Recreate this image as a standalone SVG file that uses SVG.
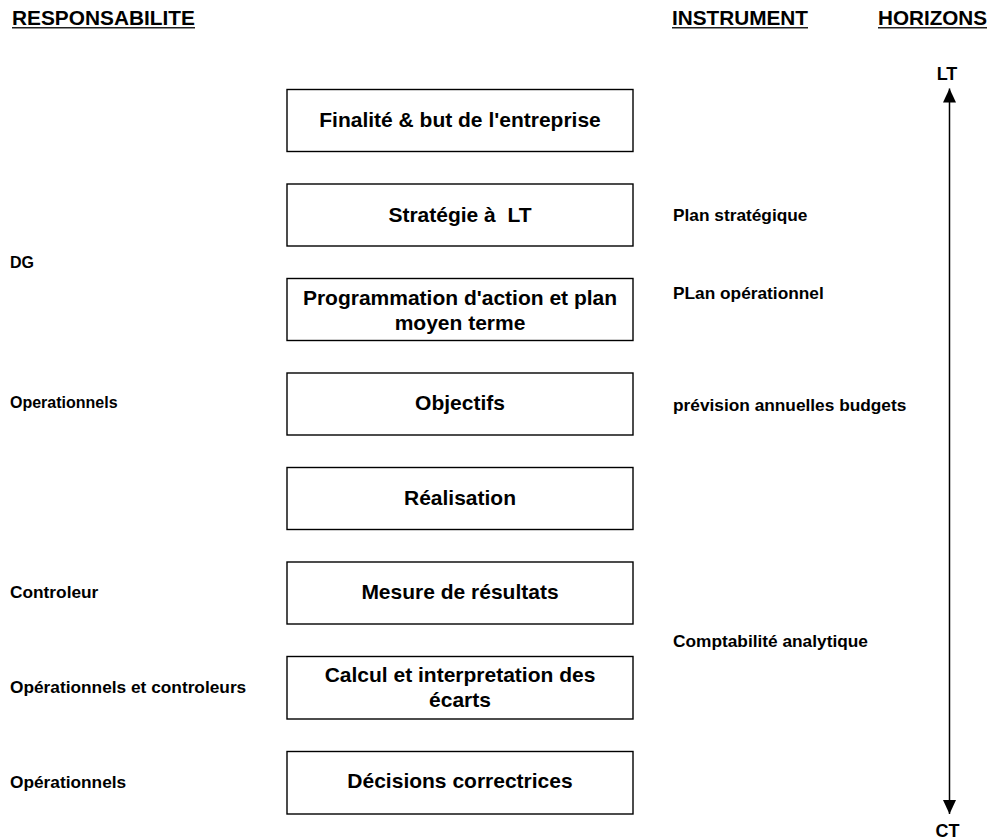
<svg xmlns="http://www.w3.org/2000/svg" width="991" height="839" viewBox="0 0 991 839">
  <defs>
    <style>
      text { font-family: "Liberation Sans", Arial, sans-serif; font-weight: bold; fill: #000; }
      .head { font-size: 20.8px; }
      .rule { stroke: #222; stroke-width: 1.6; }
      .box rect { fill: #fff; stroke: #000; stroke-width: 1.4; }
      .box text { font-size: 21px; text-anchor: middle; }
      .lbl { font-size: 17.3px; }
      .lbl-s { font-size: 16px; }
      .axis { stroke: #000; stroke-width: 1.5; fill: none; }
      .end { font-size: 18px; text-anchor: middle; }
    </style>
    <!-- filled arrowhead, drawn along +x so orient="auto" follows the line -->
    <marker id="tip" markerWidth="15" markerHeight="14" refX="14" refY="7" orient="auto-start-reverse" markerUnits="userSpaceOnUse" viewBox="0 0 15 14">
      <path d="M14 7 L0 0.5 L0 13.5 Z" fill="#000"/>
    </marker>
  </defs>

  <rect width="991" height="839" fill="#fff"/>

  <!-- column headings -->
  <g id="headings">
    <text class="head" x="12" y="24.5" textLength="183" lengthAdjust="spacingAndGlyphs">RESPONSABILITE</text>
    <line class="rule" x1="12" y1="27.8" x2="195" y2="27.8"/>
    <text class="head" x="672" y="24.5" textLength="136" lengthAdjust="spacingAndGlyphs">INSTRUMENT</text>
    <line class="rule" x1="672" y1="27.8" x2="808" y2="27.8"/>
    <text class="head" x="878" y="24.5" textLength="109" lengthAdjust="spacingAndGlyphs">HORIZONS</text>
    <line class="rule" x1="878" y1="27.8" x2="987" y2="27.8"/>
  </g>

  <!-- management process steps -->
  <g id="finalite" class="box">
    <rect x="287" y="89.5" width="346" height="62"/>
    <text x="460" y="127">Finalité &amp; but de l'entreprise</text>
  </g>
  <g id="strategie" class="box">
    <rect x="287" y="184" width="346" height="62"/>
    <text x="460" y="221.5" xml:space="preserve">Stratégie à  LT</text>
  </g>
  <g id="programmation" class="box">
    <rect x="287" y="278.5" width="346" height="62"/>
    <text x="460" y="305">Programmation d'action et plan</text>
    <text x="460" y="330">moyen terme</text>
  </g>
  <g id="objectifs" class="box">
    <rect x="287" y="373" width="346" height="62"/>
    <text x="460" y="410">Objectifs</text>
  </g>
  <g id="realisation" class="box">
    <rect x="287" y="467.5" width="346" height="62"/>
    <text x="460" y="505">Réalisation</text>
  </g>
  <g id="mesure" class="box">
    <rect x="287" y="562" width="346" height="62"/>
    <text x="460" y="599">Mesure de résultats</text>
  </g>
  <g id="ecarts" class="box">
    <rect x="287" y="656.5" width="346" height="62.5"/>
    <text x="460" y="682">Calcul et interpretation des</text>
    <text x="460" y="707">écarts</text>
  </g>
  <g id="decisions" class="box">
    <rect x="287" y="751.5" width="346" height="62.5"/>
    <text x="460" y="787.5">Décisions correctrices</text>
  </g>

  <!-- responsibility column -->
  <g id="responsabilite">
    <text class="lbl-s" x="10" y="268">DG</text>
    <text class="lbl-s" x="10" y="408">Operationnels</text>
    <text class="lbl" x="10" y="598">Controleur</text>
    <text class="lbl" x="10" y="693">Opérationnels et controleurs</text>
    <text class="lbl" x="10" y="788">Opérationnels</text>
  </g>

  <!-- instrument column -->
  <g id="instrument">
    <text class="lbl" x="673" y="220.5">Plan stratégique</text>
    <text class="lbl" x="673" y="298.5">PLan opérationnel</text>
    <text class="lbl" x="673" y="410.5">prévision annuelles budgets</text>
    <text class="lbl" x="673" y="646.5">Comptabilité analytique</text>
  </g>

  <!-- time horizon axis -->
  <g id="connectors">
    <line class="axis" x1="949.5" y1="88.5" x2="949.5" y2="814" marker-start="url(#tip)" marker-end="url(#tip)"/>
  </g>
  <g id="horizons">
    <text class="end" x="947" y="80">LT</text>
    <text class="end" x="947.5" y="836.5">CT</text>
  </g>
</svg>
